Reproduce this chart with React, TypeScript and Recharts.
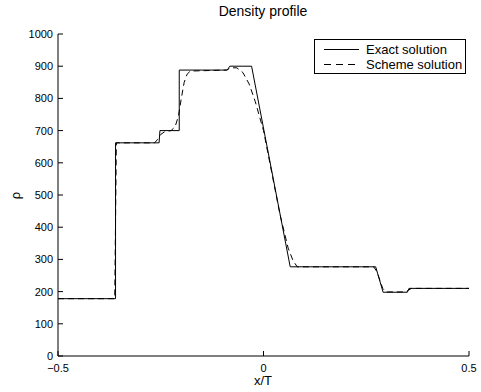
import React from 'react';
import { LineChart, Line, XAxis, YAxis, Legend } from 'recharts';

const exactX = [-0.5, -0.36, -0.36, -0.254, -0.252, -0.205, -0.205, -0.088, -0.082, -0.029, 0.065, 0.273, 0.291, 0.35, 0.354, 0.5];
const exactRho = [178, 178, 662, 662, 700, 700, 888, 888, 900, 900, 277, 277, 198, 198, 210, 210];

const schemeX = [-0.5, -0.362, -0.358, -0.265, -0.258, -0.25, -0.24, -0.225, -0.215, -0.207, -0.2, -0.193, -0.186, -0.178, -0.09, -0.08, -0.065, -0.05, -0.035, -0.02, 0.0, 0.02, 0.04, 0.06, 0.072, 0.082, 0.268, 0.276, 0.283, 0.29, 0.298, 0.347, 0.352, 0.36, 0.5];
const schemeRho = [178, 178, 662, 662, 672, 688, 697, 700, 712, 745, 800, 850, 875, 885, 888, 895, 895, 880, 845, 790, 700, 570, 440, 335, 296, 277, 277, 262, 236, 210, 199, 199, 204, 210, 210];

const xTicks = [-0.5, 0, 0.5];
const yTicks = [0, 100, 200, 300, 400, 500, 600, 700, 800, 900, 1000];

const exactData = exactX.map((x, i) => ({ x, rho: exactRho[i] }));
const schemeData = schemeX.map((x, i) => ({ x, rho: schemeRho[i] }));

const FONT = '"Liberation Sans", Arial, Helvetica, sans-serif';

const fmtX = (v: number) => (v < 0 ? '\u2212' + Math.abs(v).toString() : v.toString());

const YTick = (props: any) => {
  const { x, y, payload } = props;
  return (
    <g>
      <line x1={x} x2={x + 5} y1={y} y2={y} stroke="#000" strokeWidth={1} />
      <text x={x - 5} y={y} textAnchor="end" dominantBaseline="central" fontSize={11} fontFamily={FONT} fill="#000">
        {payload.value}
      </text>
    </g>
  );
};

const XTick = (props: any) => {
  const { x, y, payload } = props;
  return (
    <g>
      <line x1={x} x2={x} y1={y} y2={y - 5} stroke="#000" strokeWidth={1} />
      <text x={x} y={y + 12} textAnchor="middle" dominantBaseline="central" fontSize={11} fontFamily={FONT} fill="#000">
        {fmtX(payload.value)}
      </text>
    </g>
  );
};

const LegendBox = () => (
  <div style={{ width: 150, height: 33, border: '1px solid #000', background: '#fff', position: 'relative', fontFamily: FONT }}>
    <svg width={150} height={33} style={{ position: 'absolute', left: 0, top: 0 }}>
      <line x1={9} x2={44} y1={9.5} y2={9.5} stroke="#000" strokeWidth={1} />
      <line x1={9} x2={44} y1={24.5} y2={24.5} stroke="#000" strokeWidth={1} strokeDasharray="7 5" />
      <text x={51} y={9.5} dominantBaseline="central" fontSize={13} fontFamily={FONT} fill="#000">Exact solution</text>
      <text x={51} y={24.5} dominantBaseline="central" fontSize={13} fontFamily={FONT} fill="#000">Scheme solution</text>
    </svg>
  </div>
);

export default function App() {
  return (
    <div style={{ position: 'absolute', left: 0, top: 0, width: 481, height: 392, background: '#fff' }}>
      <div style={{ position: 'absolute', left: 0, width: 526, top: 3, textAlign: 'center', fontFamily: FONT, fontSize: 14, color: '#000' }}>
        Density profile
      </div>
      <div style={{ position: 'absolute', left: 0, width: 526, top: 373, textAlign: 'center', fontFamily: FONT, fontSize: 13, color: '#000' }}>
        x/T
      </div>
      <div style={{ position: 'absolute', left: 12, top: 188, fontFamily: FONT, fontSize: 13, color: '#000', transform: 'rotate(-90deg)', transformOrigin: 'center' }}>
        ρ
      </div>
      <LineChart width={481} height={392} margin={{ top: 34, right: 12, left: 0, bottom: 0 }}>
        <XAxis
          type="number"
          dataKey="x"
          domain={[-0.5, 0.5]}
          ticks={xTicks}
          allowDataOverflow
          height={36}
          tickSize={0}
          tickMargin={0}
          tickLine={false}
          axisLine={{ stroke: '#000', strokeWidth: 1 }}
          tick={<XTick />}
          interval={0}
        />
        <YAxis
          type="number"
          dataKey="rho"
          domain={[0, 1000]}
          ticks={yTicks}
          width={58}
          tickSize={0}
          tickMargin={0}
          tickLine={false}
          axisLine={{ stroke: '#000', strokeWidth: 1 }}
          tick={<YTick />}
          interval={0}
        />
        <Line data={exactData} dataKey="rho" type="linear" stroke="#000" strokeWidth={1} dot={false} isAnimationActive={false} />
        <Line data={schemeData} dataKey="rho" type="linear" stroke="#000" strokeWidth={1} strokeDasharray="6 4" dot={false} isAnimationActive={false} />
        <Legend
          layout="vertical"
          align="center"
          verticalAlign="middle"
          content={<LegendBox />}
          wrapperStyle={{ position: 'absolute', left: 314, top: 39, width: 152, height: 35 }}
        />
      </LineChart>
    </div>
  );
}
